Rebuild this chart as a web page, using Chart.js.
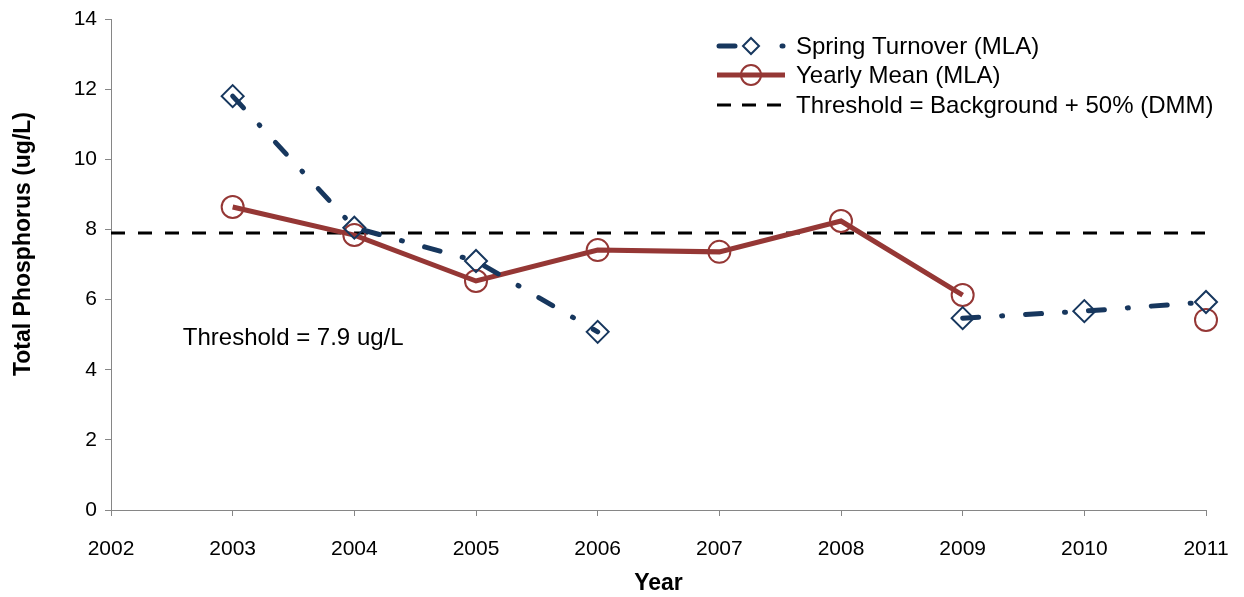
<!DOCTYPE html>
<html lang="en">
<head>
<meta charset="UTF-8">
<title>Total Phosphorus by Year</title>
<script src="https://cdn.jsdelivr.net/npm/chart.js"></script>
<style>
    html, body { margin: 0; padding: 0; background: #fff; }
    .wrap { width: 1244px; height: 597px; position: relative; }
</style>
</head>
<body>
<div class="wrap"><canvas id="tpChart"></canvas></div>
<script>
// data
const years = [2003, 2004, 2005, 2006, 2007, 2008, 2009, 2010, 2011];
const springTurnover = [11.8, 8.05, 7.1, 5.08, null, null, 5.47, 5.67, 5.93];
const yearlyMean = [8.64, 7.84, 6.53, 7.41, 7.36, 8.24, 6.13, null, 5.42];
const thresholdYears = [2002, 2011];
const thresholdValue = 7.9;
const seriesNames = ['Spring Turnover (MLA)', 'Yearly Mean (MLA)', 'Threshold = Background + 50% (DMM)'];

const FONT = "'Liberation Sans', Arial, sans-serif";
const NAVY = '#17375E';
const RED = '#953735';

const toXY = (xs, ys) => xs.map((x, i) => ({ x: x, y: ys[i] }));

// legend, y title and annotation text, drawn by hand so the line samples match the series styles
const extras = {
    id: 'extras',
    afterDraw(chart) {
        const ctx = chart.ctx;
        const { x, y } = chart.scales;
        ctx.save();
        ctx.fillStyle = '#000';
        ctx.textBaseline = 'middle';

        // y axis title (Excel puts it a bit above the axis middle)
        ctx.save();
        ctx.translate(24, 244);
        ctx.rotate(-Math.PI / 2);
        ctx.textAlign = 'center';
        ctx.font = 'bold 23px ' + FONT;
        ctx.fillText('Total Phosphorus (ug/L)', 0, 0);
        ctx.restore();

        ctx.font = '24px ' + FONT;
        ctx.fillText('Threshold = 7.9 ug/L', x.getPixelForValue(2002.59), y.getPixelForValue(4.9));

        const lx0 = 719, lx1 = 783, tx = 796;
        const rows = [46, 75, 105];
        // spring turnover sample
        ctx.lineCap = 'round';
        ctx.strokeStyle = NAVY; ctx.lineWidth = 5;
        ctx.beginPath(); ctx.moveTo(lx0, rows[0]); ctx.lineTo(lx0 + 16, rows[0]); ctx.stroke();
        ctx.beginPath(); ctx.moveTo(lx1 - 1, rows[0]); ctx.lineTo(lx1, rows[0]); ctx.stroke();
        ctx.lineWidth = 2;
        ctx.beginPath();
        ctx.moveTo(751, rows[0] - 8); ctx.lineTo(759, rows[0]); ctx.lineTo(751, rows[0] + 8); ctx.lineTo(743, rows[0]); ctx.closePath();
        ctx.stroke();
        // yearly mean sample
        ctx.lineCap = 'butt';
        ctx.strokeStyle = RED; ctx.lineWidth = 5;
        ctx.beginPath(); ctx.moveTo(lx0 - 2, rows[1]); ctx.lineTo(lx1 + 2, rows[1]); ctx.stroke();
        ctx.lineWidth = 2;
        ctx.beginPath(); ctx.arc(751, rows[1], 10, 0, Math.PI * 2); ctx.stroke();
        // threshold sample
        ctx.strokeStyle = '#000'; ctx.lineWidth = 3;
        ctx.setLineDash([14, 11]);
        ctx.beginPath(); ctx.moveTo(lx0 - 2, rows[2]); ctx.lineTo(lx1 + 2, rows[2]); ctx.stroke();
        ctx.setLineDash([]);

        ctx.font = '24px ' + FONT;
        seriesNames.forEach((s, i) => ctx.fillText(s, tx, rows[i] + 1));
        ctx.restore();
    }
};

new Chart(document.getElementById('tpChart'), {
    type: 'line',
    data: {
        datasets: [
            {
                label: seriesNames[0],
                data: toXY(years, springTurnover),
                borderColor: NAVY,
                borderWidth: 5,
                borderDash: [16, 23, 1, 23],
                borderCapStyle: 'round',
                pointStyle: 'rectRot',
                pointRadius: 11,
                pointBorderWidth: 2,
                pointBorderColor: NAVY,
                pointBackgroundColor: 'rgba(0,0,0,0)',
                spanGaps: false,
                tension: 0,
                clip: false,
                order: 1
            },
            {
                label: seriesNames[1],
                data: toXY(years, yearlyMean),
                borderColor: RED,
                borderWidth: 5,
                pointStyle: 'circle',
                pointRadius: 11,
                pointBorderWidth: 2,
                pointBorderColor: RED,
                pointBackgroundColor: 'rgba(0,0,0,0)',
                spanGaps: false,
                tension: 0,
                clip: false,
                order: 2
            },
            {
                label: seriesNames[2],
                data: thresholdYears.map(x => ({ x: x, y: thresholdValue })),
                borderColor: '#000',
                borderWidth: 3,
                borderDash: [14, 13],
                pointRadius: 0,
                order: 3
            }
        ]
    },
    options: {
        responsive: true,
        maintainAspectRatio: false,
        animation: false,
        layout: { padding: { top: 19, right: 38, left: 0, bottom: 0 } },
        scales: {
            x: {
                type: 'linear',
                min: 2002, max: 2011,
                afterFit(scale) {
                    scale.height = 87;
                    scale.paddingLeft = 0;
                    scale.paddingRight = 0;
                },
                border: { color: '#868686', width: 1 },
                grid: { drawOnChartArea: false, drawTicks: true, tickLength: 6, color: '#868686' },
                ticks: {
                    stepSize: 1,
                    color: '#000',
                    font: { family: FONT, size: 21 },
                    padding: 21,
                    maxRotation: 0,
                    callback: v => String(v)
                },
                title: {
                    display: true,
                    text: 'Year',
                    color: '#000',
                    font: { family: FONT, size: 23, weight: 'bold' },
                    padding: { top: 6, bottom: 0 }
                }
            },
            y: {
                min: 0, max: 14,
                afterFit(scale) {
                    scale.width = 111;
                    scale.paddingTop = 0;
                    scale.paddingBottom = 0;
                },
                border: { color: '#868686', width: 1 },
                grid: { drawOnChartArea: false, drawTicks: true, tickLength: 6, color: '#868686' },
                ticks: {
                    stepSize: 2,
                    color: '#000',
                    font: { family: FONT, size: 21 },
                    padding: 8
                },
                title: { display: false }
            }
        },
        plugins: {
            legend: { display: false },
            tooltip: { enabled: false }
        }
    },
    plugins: [extras]
});
</script>
</body>
</html>
